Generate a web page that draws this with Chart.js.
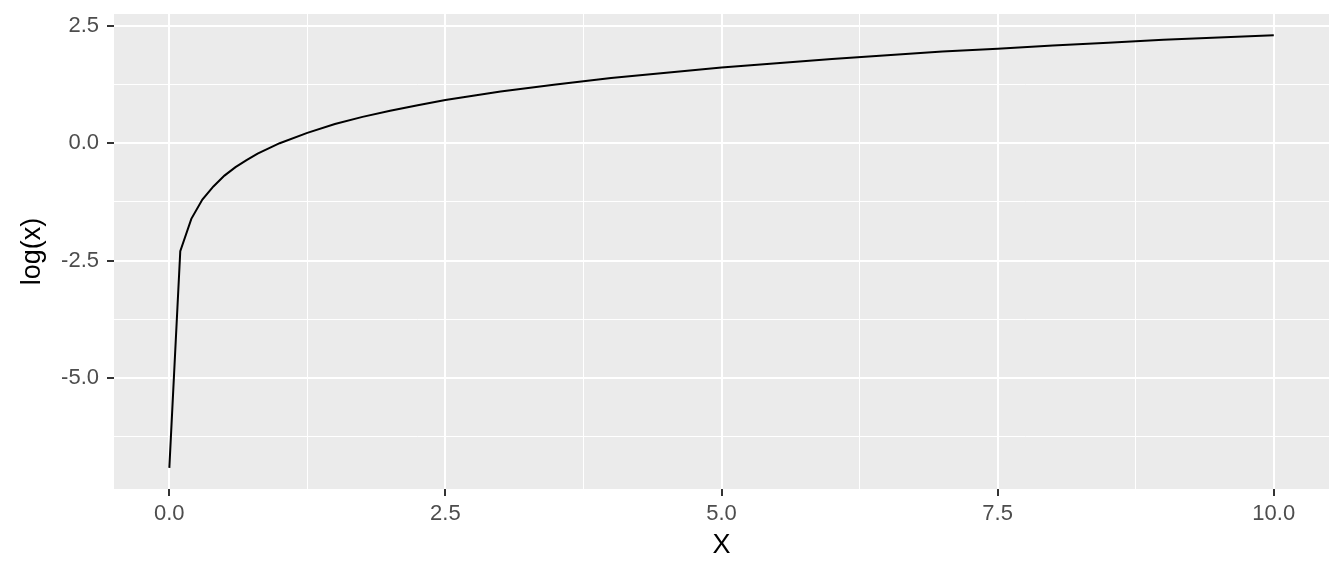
<!DOCTYPE html>
<html>
<head>
<meta charset="utf-8">
<script src="https://cdn.jsdelivr.net/npm/chart.js@4"></script>
<style>
  html, body { margin: 0; padding: 0; background: #fff; }
  #wrap { width: 1344px; height: 576px; }
</style>
</head>
<body>
<div id="wrap"><canvas id="grafico" width="1344" height="576"></canvas></div>
<script>
// valores
const xValores = [0.001, 0.1, 0.2, 0.3, 0.4, 0.5, 0.6, 0.7, 0.8, 0.9, 1.0,
  1.25, 1.5, 1.75, 2.0, 2.25, 2.5, 2.75, 3.0,
  3.5, 4.0, 4.5, 5.0, 5.5, 6.0, 6.5, 7.0, 7.5, 8.0, 8.5, 9.0, 9.5, 10.0];
const yValores = [-6.91, -2.30, -1.61, -1.20, -0.92, -0.69, -0.51, -0.36, -0.22, -0.11, 0.00,
  0.22, 0.41, 0.56, 0.69, 0.81, 0.92, 1.01, 1.10,
  1.25, 1.39, 1.50, 1.61, 1.70, 1.79, 1.87, 1.95, 2.01, 2.08, 2.14, 2.20, 2.25, 2.30];

const xTicks = [0, 1.25, 2.5, 3.75, 5, 6.25, 7.5, 8.75, 10];
const yTicks = [-6.25, -5, -3.75, -2.5, -1.25, 0, 1.25, 2.5];

const fuente = "'Liberation Sans', Arial, sans-serif";

function esMayor(v) {
  const r = v / 2.5;
  return Math.abs(r - Math.round(r)) < 1e-9;
}

// fondo gris del panel
const fondoPanel = {
  id: 'fondoPanel',
  beforeDraw(chart) {
    const a = chart.chartArea;
    const ctx = chart.ctx;
    ctx.save();
    ctx.fillStyle = '#EBEBEB';
    ctx.fillRect(a.left, a.top, a.right - a.left, a.bottom - a.top);
    ctx.restore();
  }
};

function gridOpts() {
  return {
    color: '#FFFFFF',
    lineWidth: c => (c.tick && esMayor(c.tick.value)) ? 2 : 1,
    tickColor: c => (c.tick && esMayor(c.tick.value)) ? '#333333' : 'rgba(0,0,0,0)',
    tickWidth: 2,
    tickLength: 7,
    drawTicks: true
  };
}

const puntos = xValores.map((x, i) => ({ x: x, y: yValores[i] }));

new Chart(document.getElementById('grafico'), {
  type: 'line',
  data: {
    datasets: [{
      data: puntos,
      borderColor: '#000000',
      borderWidth: 2,
      pointRadius: 0,
      tension: 0,
      fill: false
    }]
  },
  options: {
    responsive: false,
    animation: false,
    layout: { padding: { top: 14, right: 15, left: 0, bottom: 0 } },
    plugins: { legend: { display: false }, tooltip: { enabled: false } },
    scales: {
      x: {
        type: 'linear',
        min: -0.5,
        max: 10.5,
        afterBuildTicks: s => { s.ticks = xTicks.map(v => ({ value: v })); },
        afterFit: s => { s.height = 87; s.paddingLeft = 0; s.paddingRight = 0; },
        grid: gridOpts(),
        border: { display: false },
        ticks: {
          autoSkip: false,
          maxRotation: 0,
          padding: 5,
          color: '#4D4D4D',
          font: { family: fuente, size: 22 },
          callback: v => esMayor(v) ? v.toFixed(1) : ''
        },
        title: {
          display: true,
          text: 'X',
          color: '#000000',
          font: { family: fuente, size: 27 },
          padding: { top: 0, bottom: 14 }
        }
      },
      y: {
        type: 'linear',
        min: -7.36,
        max: 2.75,
        afterBuildTicks: s => { s.ticks = yTicks.map(v => ({ value: v })); },
        afterFit: s => { s.width = 114; s.paddingTop = 0; s.paddingBottom = 0; },
        grid: gridOpts(),
        border: { display: false },
        ticks: {
          autoSkip: false,
          padding: 8,
          color: '#4D4D4D',
          font: { family: fuente, size: 22 },
          callback: v => esMayor(v) ? v.toFixed(1) : ''
        },
        title: {
          display: true,
          text: 'log(x)',
          color: '#000000',
          font: { family: fuente, size: 27 },
          padding: { top: 16, bottom: 0 }
        }
      }
    }
  },
  plugins: [fondoPanel]
});
</script>
</body>
</html>
